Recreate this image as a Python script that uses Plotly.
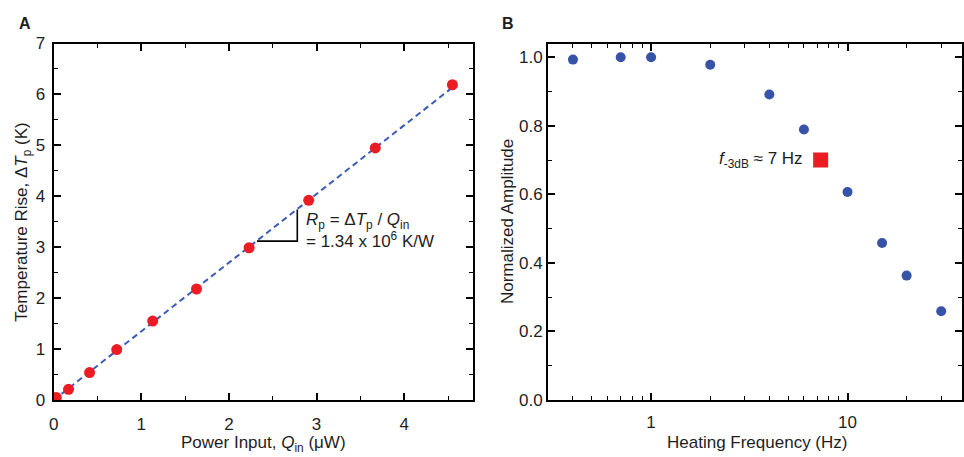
import plotly.graph_objects as go
import math

# ---------------- data ----------------
# Panel A: temperature rise vs power input
q_in = [0.03, 0.17, 0.41, 0.72, 1.13, 1.63, 2.23, 2.91, 3.67, 4.55]
delta_t = [0.05, 0.21, 0.54, 0.99, 1.55, 2.18, 2.99, 3.92, 4.95, 6.19]
fit_q = [0.0, 4.56]
fit_t = [0.0, 6.15]
tri_q = [2.32, 2.78, 2.78]
tri_t = [3.12, 3.12, 3.74]

# Panel B: normalized amplitude vs heating frequency
freq = [0.4, 0.7, 1.0, 2.0, 4.0, 6.0, 10.0, 15.0, 20.0, 30.0]
amp = [0.993, 1.0, 1.0, 0.978, 0.891, 0.789, 0.607, 0.458, 0.363, 0.259]
f3db = [7.3]
f3db_amp = [0.70]

xa_ticks = [0, 1, 2, 3, 4]
ya_ticks = [0, 1, 2, 3, 4, 5, 6, 7]
yb_ticks = [0.0, 0.2, 0.4, 0.6, 0.8, 1.0]
xb_ticks = [1, 10]
xb_minor = [0.3, 0.4, 0.5, 0.6, 0.7, 0.8, 0.9, 2, 3, 4, 5, 6, 7, 8, 9, 20, 30, 40]

RED = "#ec1c24"
BLUE = "#3653a8"
FONT = "Liberation Sans, Arial, sans-serif"
TXT = "#1e1e1e"

W, H = 964, 457

def px_x(p):
    return p / W

def px_y(p):
    return 1 - p / H

fig = go.Figure()

# Panel A
fig.add_trace(go.Scatter(x=fit_q, y=fit_t, mode="lines",
                         line=dict(color="#3b5bb8", width=2, dash="6px,4px"),
                         xaxis="x", yaxis="y", showlegend=False, hoverinfo="skip"))
fig.add_trace(go.Scatter(x=q_in, y=delta_t, mode="markers",
                         marker=dict(color=RED, size=11, line=dict(width=0)),
                         xaxis="x", yaxis="y", showlegend=False))
fig.add_trace(go.Scatter(x=tri_q, y=tri_t, mode="lines",
                         line=dict(color="black", width=1.6),
                         xaxis="x", yaxis="y", showlegend=False, hoverinfo="skip"))

# Panel B
fig.add_trace(go.Scatter(x=freq, y=amp, mode="markers",
                         marker=dict(color=BLUE, size=10, line=dict(width=0)),
                         xaxis="x2", yaxis="y2", showlegend=False))
fig.add_trace(go.Scatter(x=f3db, y=f3db_amp, mode="markers",
                         marker=dict(color=RED, size=15, symbol="square", line=dict(width=0)),
                         xaxis="x2", yaxis="y2", showlegend=False))

axis_common = dict(
    showline=True, linecolor="black", linewidth=2, mirror="ticks",
    ticks="inside", ticklen=7, tickwidth=1.6, tickcolor="black",
    showgrid=False, zeroline=False,
    tickfont=dict(family=FONT, size=17, color=TXT),
)
minor_common = dict(ticks="inside", ticklen=4, tickwidth=1.4, tickcolor="black")

ydom = [px_y(408), px_y(36)]

fig.update_layout(
    width=W, height=H,
    margin=dict(l=0, r=0, t=0, b=0),
    plot_bgcolor="white", paper_bgcolor="white",
    font=dict(family=FONT, color=TXT),
    xaxis=dict(domain=[px_x(49), px_x(471)], range=[0, 4.78],
               tickvals=xa_ticks, anchor="y", ticklabelstandoff=8,
               minor=dict(dtick=0.5, **minor_common),
               **axis_common),
    yaxis=dict(domain=ydom, range=[0, 7], tickvals=ya_ticks, anchor="x",
               ticklabelstandoff=3,
               minor=dict(dtick=0.5, **minor_common),
               **axis_common),
    xaxis2=dict(domain=[px_x(547), 1.0], type="log",
                range=[math.log10(0.3) - 0.002, 1.583],
                tickvals=xb_ticks, ticktext=["1", "10"], anchor="y2",
                ticklabelstandoff=6,
                minor=dict(tickvals=xb_minor, **minor_common),
                **axis_common),
    yaxis2=dict(domain=ydom, range=[0, 1.04], tickvals=yb_ticks, tickformat=".1f",
                anchor="x2",
                minor=dict(dtick=0.1, **minor_common),
                **axis_common),
)

ann_font = dict(family=FONT, size=17, color=TXT)
annotations = [
    dict(text="<b>A</b>", x=px_x(12), y=px_y(15), xanchor="left", yanchor="middle",
         font=dict(family=FONT, size=16, color=TXT)),
    dict(text="<b>B</b>", x=px_x(499), y=px_y(15), xanchor="left", yanchor="middle",
         font=dict(family=FONT, size=16, color=TXT)),
    dict(text="Power Input, <i>Q</i><sub>in</sub> (\u03bcW)", x=px_x(260), y=px_y(454),
         xanchor="center", yanchor="middle", font=ann_font),
    dict(text="Temperature Rise, \u0394<i>T</i><sub>p</sub> (K)", x=px_x(18), y=px_y(222),
         xanchor="center", yanchor="middle", textangle=-90, font=ann_font),
    dict(text="Heating Frequency (Hz)", x=px_x(758), y=px_y(452),
         xanchor="center", yanchor="middle", font=ann_font),
    dict(text="Normalized Amplitude", x=px_x(506), y=px_y(222),
         xanchor="center", yanchor="middle", textangle=-90, font=ann_font),
    dict(text="<i>R</i><sub>p</sub> = \u0394<i>T</i><sub>p</sub> / <i>Q</i><sub>in</sub><br>= 1.34 x 10<sup>6</sup> K/W",
         x=px_x(301), y=px_y(231), xanchor="left", yanchor="middle", align="left",
         font=ann_font),
    dict(text="<i>f</i><sub>-3dB</sub> \u2248 7 Hz", x=px_x(806), y=px_y(158),
         xanchor="right", yanchor="middle", font=ann_font),
]
for a in annotations:
    a.update(xref="paper", yref="paper", showarrow=False)
fig.update_layout(annotations=annotations)

fig.write_html("out.html")
